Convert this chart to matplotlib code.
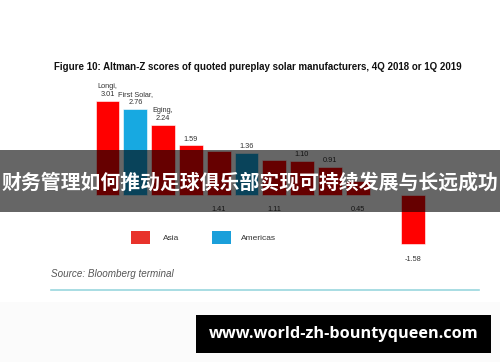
import numpy as np
import matplotlib
matplotlib.use("Agg")
import matplotlib.pyplot as plt
from matplotlib.patches import Rectangle

# 数据
names = ["Longi", "First Solar", "Eging", "", "", "", "", "", "", "", "", ""]
values = [3.01, 2.76, 2.24, 1.59, 1.41, 1.36, 1.11, 1.10, 0.91, 0.45, np.nan, -1.58]
regions = ["Asia", "Americas", "Asia", "Asia", "Asia", "Americas", "Asia", "Asia", "Asia", "Asia", "Asia", "Asia"]
label_below = [False, False, False, False, True, False, True, False, False, True, False, True]
legend_names = ["Asia", "Americas"]

title = "Figure 10: Altman-Z scores of quoted pureplay solar manufacturers, 4Q 2018 or 1Q 2019"
source = "Source: Bloomberg terminal"
banner = "财务管理如何推动足球俱乐部实现可持续发展与长远成功"
site = "www.world-zh-bountyqueen.com"

bar_colors = {"Asia": "#ff0000", "Americas": "#17a9e1"}
legend_colors = {"Asia": "#e8322b", "Americas": "#1a9fda"}

W, H = 500, 362
plt.rcParams["font.family"] = ["Liberation Sans", "DejaVu Sans"]

fig = plt.figure(figsize=(W / 100, H / 100), dpi=100)
fig.patch.set_facecolor("white")


def fx(x):
    return x / W


def fy(y):
    return 1 - y / H


# 背景下部浅灰
fig.patches.append(Rectangle((0, 0), 1, fy(302), transform=fig.transFigure,
                             facecolor="#fbfbfb", edgecolor="none", zorder=0))

# 柱状图区域：0 在 y=195px，每单位 31.2px，每柱间隔 27.8px
step, unit = 27.8, 31.2
ymin, ymax = -2.0, 3.5
left_px = 107.5 - step
ax = fig.add_axes([fx(left_px), fy(195 - ymin * unit), step * 13 / W, (ymax - ymin) * unit / H])
ax.set_xlim(-1, 12)
ax.set_ylim(ymin, ymax)
ax.axis("off")

x = np.arange(len(values))
cols = [bar_colors[r] for r in regions]
ax.bar(x, values, width=0.85, color=cols, edgecolor="white", linewidth=0.4)

for i, v in enumerate(values):
    if np.isnan(v):
        continue
    txt = f"{v:.2f}"
    if names[i]:
        txt = f"{names[i]},\n{v:.2f}"
    if label_below[i]:
        y = v - 0.5 if v < 0 else -0.45
        ax.text(i, y, txt, ha="center", va="center", fontsize=5.3, color="#333333")
    else:
        ax.text(i, v + 0.09, txt, ha="center", va="bottom", fontsize=5.3,
                color="#333333", linespacing=1.25)

# 标题
fig.text(fx(258), fy(67), title, ha="center", va="center", fontsize=7.05,
         fontweight="bold", color="#111111")

# 图例
for k, (nm, sx, tx) in enumerate(zip(legend_names, [131, 212], [163, 241])):
    fig.patches.append(Rectangle((fx(sx), fy(243.5)), 19 / W, 12.5 / H, transform=fig.transFigure,
                                 facecolor=legend_colors[nm], edgecolor="none"))
    fig.text(fx(tx), fy(238), nm, ha="left", va="center", fontsize=6, color="#333333")

# 来源与分隔线
fig.text(fx(51), fy(274), source, ha="left", va="center", fontsize=7.1,
         style="italic", color="#555555")
fig.add_artist(plt.Line2D([fx(51), fx(479)], [fy(290), fy(290)], transform=fig.transFigure,
                          color="#9ad7de", linewidth=1.2))

# 中间半透明横幅
fig.patches.append(Rectangle((0, fy(212)), 1, 62 / H, transform=fig.transFigure,
                             facecolor="black", alpha=0.6, edgecolor="none", zorder=5))
fig.text(0.5, fy(182), banner, ha="center", va="center", fontsize=14.3,
         fontweight="bold", color="white", family=["Noto Sans CJK SC", "DejaVu Sans"], zorder=6)

# 底部网址框
fig.patches.append(Rectangle((fx(196), fy(353)), 295 / W, 38 / H, transform=fig.transFigure,
                             facecolor="black", edgecolor="none", zorder=5))
fig.text(fx(344), fy(334), site, ha="center", va="center", fontsize=11.7,
         fontweight="bold", color="white", family=["Open Sans", "DejaVu Sans"], zorder=6)

fig.savefig("out.png", dpi=100)
